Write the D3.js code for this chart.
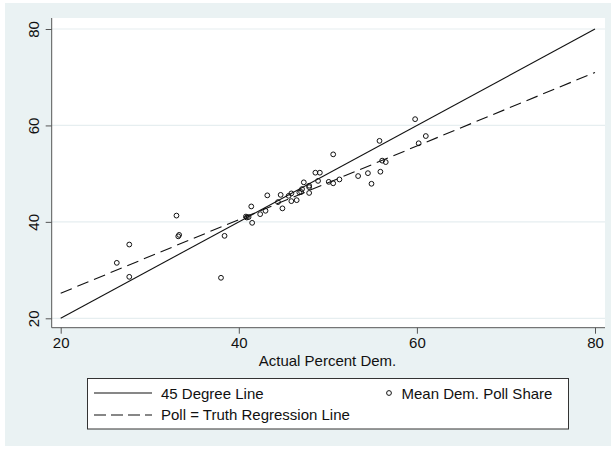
<!DOCTYPE html>
<html>
<head>
<meta charset="utf-8">
<script src="https://cdn.jsdelivr.net/npm/d3@7"></script>
<style>
  html, body { margin: 0; padding: 0; background: #ffffff; }
  svg { display: block; font-family: "Liberation Sans", Arial, Helvetica, sans-serif; }
</style>
</head>
<body>
<svg id="chart" width="616" height="449"></svg>
<script>
// ---- Data ----
const actualPct = [26.3, 27.7, 27.7, 33.0, 33.2, 33.3, 38.0, 38.4, 40.8, 40.9, 41.1, 41.4, 41.5, 42.4, 43.0, 43.2, 44.4, 44.7, 44.9, 45.6, 45.9, 45.9, 46.5, 46.8, 47.0, 47.1, 47.3, 47.9, 47.9, 47.9, 48.6, 48.9, 49.1, 50.1, 50.6, 50.6, 51.3, 53.4, 54.5, 54.9, 55.8, 55.9, 56.1, 56.5, 59.8, 60.2, 61.0];
const pollShare = [31.5, 35.3, 28.6, 41.3, 37.0, 37.3, 28.4, 37.1, 41.1, 40.9, 41.0, 43.2, 39.8, 41.6, 42.3, 45.5, 44.1, 45.6, 42.8, 45.4, 45.9, 44.3, 44.5, 46.1, 46.2, 46.8, 48.2, 47.5, 47.2, 46.0, 50.2, 48.5, 50.2, 48.3, 54.0, 48.0, 48.8, 49.5, 50.1, 47.9, 56.8, 50.4, 52.7, 52.4, 61.3, 56.3, 57.8];
const lineX = [20, 80];
const degree45Y = [20, 80];
const regressionY = [25.2, 71.0];
const xTicks = [20, 40, 60, 80];
const yTicks = [20, 40, 60, 80];
const xTitle = "Actual Percent Dem.";
const legendLabels = ["45 Degree Line", "Mean Dem. Poll Share", "Poll = Truth Regression Line"];

// ---- Layout ----
const svg = d3.select("#chart");
const bgColor = "#eaf2f3";
const plotL = 51.7, plotR = 605, plotT = 18, plotB = 327.7;

const x = d3.scaleLinear().domain([20, 80]).range([60.7, 595]);
const y = d3.scaleLinear().domain([20, 80]).range([318.3, 29]);

svg.append("rect").attr("x", 5).attr("y", 3).attr("width", 606).attr("height", 443).attr("fill", bgColor);
svg.append("rect").attr("x", plotL).attr("y", plotT).attr("width", plotR - plotL).attr("height", plotB - plotT).attr("fill", "#ffffff");

// grid lines
svg.append("g").selectAll("line").data(yTicks).join("line")
  .attr("x1", plotL).attr("x2", plotR)
  .attr("y1", d => y(d)).attr("y2", d => y(d))
  .attr("stroke", "#e6eef0").attr("stroke-width", 1.2);

// axes
const fontSize = 15;
const yAxis = d3.axisLeft(y).tickValues(yTicks).tickSize(6).tickPadding(6).tickSizeOuter(0);
const gy = svg.append("g").attr("transform", `translate(${plotL},0)`).call(yAxis);
gy.select(".domain").remove();
gy.selectAll(".tick line").attr("stroke", "#555");
gy.selectAll(".tick text")
  .attr("font-size", fontSize).attr("fill", "#111")
  .attr("font-family", "Liberation Sans, Arial, sans-serif")
  .attr("text-anchor", "middle")
  .attr("transform", "rotate(-90)")
  .attr("x", 0).attr("y", -13).attr("dy", 0);
svg.append("line").attr("x1", plotL).attr("x2", plotL).attr("y1", plotT).attr("y2", plotB)
  .attr("stroke", "#555").attr("stroke-width", 1);

const xAxis = d3.axisBottom(x).tickValues(xTicks).tickSize(6).tickPadding(4).tickSizeOuter(0);
const gx = svg.append("g").attr("transform", `translate(0,${plotB})`).call(xAxis);
gx.select(".domain").remove();
gx.selectAll(".tick line").attr("stroke", "#555");
gx.selectAll(".tick text").attr("font-size", fontSize).attr("fill", "#111")
  .attr("font-family", "Liberation Sans, Arial, sans-serif");
svg.append("line").attr("x1", plotL).attr("x2", plotR).attr("y1", plotB).attr("y2", plotB)
  .attr("stroke", "#555").attr("stroke-width", 1);

svg.append("text").attr("x", 327.5).attr("y", 366).attr("text-anchor", "middle")
  .attr("font-size", fontSize).attr("fill", "#111").text(xTitle);

// lines
const lineGen = d3.line().x(d => x(d[0])).y(d => y(d[1]));
svg.append("path").datum(lineX.map((v, i) => [v, degree45Y[i]]))
  .attr("d", lineGen).attr("fill", "none").attr("stroke", "#111").attr("stroke-width", 1.1);
svg.append("path").datum(lineX.map((v, i) => [v, regressionY[i]]))
  .attr("d", lineGen).attr("fill", "none").attr("stroke", "#111").attr("stroke-width", 1.1)
  .attr("stroke-dasharray", "12,6");

// points
svg.append("g").selectAll("circle").data(actualPct.map((v, i) => [v, pollShare[i]])).join("circle")
  .attr("cx", d => x(d[0])).attr("cy", d => y(d[1])).attr("r", 2.4)
  .attr("fill", "none").attr("stroke", "#111").attr("stroke-width", 1);

// legend
const lg = svg.append("g");
lg.append("rect").attr("x", 87.5).attr("y", 378.5).attr("width", 481).attr("height", 50.5)
  .attr("fill", "#ffffff").attr("stroke", "#333").attr("stroke-width", 1);
lg.append("line").attr("x1", 94).attr("x2", 152).attr("y1", 393).attr("y2", 393)
  .attr("stroke", "#111").attr("stroke-width", 1.1);
lg.append("line").attr("x1", 94).attr("x2", 152).attr("y1", 415).attr("y2", 415)
  .attr("stroke", "#111").attr("stroke-width", 1.1).attr("stroke-dasharray", "12,5");
lg.append("circle").attr("cx", 389).attr("cy", 393).attr("r", 2.4)
  .attr("fill", "none").attr("stroke", "#111").attr("stroke-width", 1);
lg.append("text").attr("x", 161).attr("y", 398.5).attr("font-size", fontSize).attr("fill", "#111").text(legendLabels[0]);
lg.append("text").attr("x", 401.5).attr("y", 398.5).attr("font-size", fontSize).attr("fill", "#111").text(legendLabels[1]);
lg.append("text").attr("x", 161).attr("y", 420).attr("font-size", fontSize).attr("fill", "#111").text(legendLabels[2]);
</script>
</body>
</html>
